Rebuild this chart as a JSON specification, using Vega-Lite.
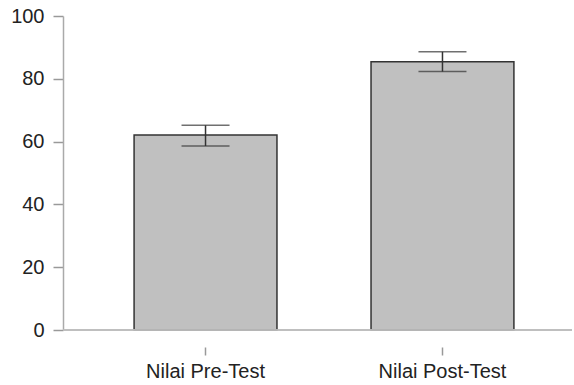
{
  "$schema": "https://vega.github.io/schema/vega-lite/v6.json",
  "autosize": {"type": "none"},
  "padding": {"left": 63, "top": 16, "right": 2, "bottom": 55},
  "width": 509,
  "height": 314,
  "background": "white",
  "config": {
    "view": {"stroke": null},
    "font": "Liberation Sans"
  },
  "data": {
    "values": [
      {"test": "Nilai Pre-Test", "mean": 62.1, "lo": 58.6, "hi": 65.2},
      {"test": "Nilai Post-Test", "mean": 85.4, "lo": 82.3, "hi": 88.6}
    ]
  },
  "encoding": {
    "x": {
      "field": "test",
      "type": "nominal",
      "sort": null,
      "scale": {"range": [0, 522], "paddingInner": 0.397, "paddingOuter": 0.3},
      "axis": {
        "title": null,
        "domain": false,
        "labelAngle": 0,
        "offset": 17,
        "tickSize": 8,
        "tickColor": "#999",
        "tickWidth": 1.5,
        "labelFontSize": 20,
        "labelColor": "#222",
        "labelPadding": 6
      }
    }
  },
  "layer": [
    {
      "mark": {"type": "bar", "fill": "#c0c0c0", "stroke": "#333", "strokeWidth": 1.5},
      "encoding": {
        "y": {
          "field": "mean",
          "type": "quantitative",
          "scale": {"domain": [0, 100], "nice": false},
          "axis": {
            "title": null,
            "values": [0, 20, 40, 60, 80, 100],
            "grid": false,
            "domainColor": "#aaa",
            "domainWidth": 1.5,
            "tickColor": "#999",
            "tickWidth": 1.5,
            "tickSize": 10,
            "labelFontSize": 20,
            "labelColor": "#222",
            "labelPadding": 9
          }
        }
      }
    },
    {
      "mark": {"type": "rule", "color": "#bbb", "strokeWidth": 1.5},
      "encoding": {"y": {"datum": 0, "type": "quantitative"}, "x": null}
    },
    {
      "mark": {"type": "rule", "color": "#333", "strokeWidth": 1.5},
      "encoding": {
        "y": {"field": "lo", "type": "quantitative"},
        "y2": {"field": "hi"}
      }
    },
    {
      "mark": {"type": "tick", "color": "#333", "size": 48, "thickness": 1.5},
      "encoding": {"y": {"field": "lo", "type": "quantitative"}}
    },
    {
      "mark": {"type": "tick", "color": "#333", "size": 48, "thickness": 1.5},
      "encoding": {"y": {"field": "hi", "type": "quantitative"}}
    }
  ]
}
